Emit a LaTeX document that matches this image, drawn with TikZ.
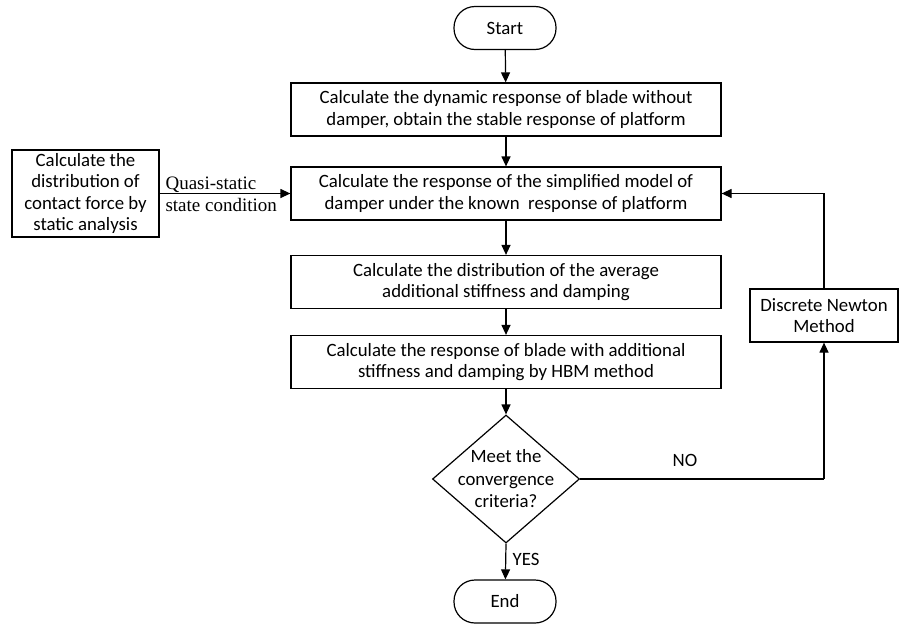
\documentclass[tikz,border=0pt]{standalone}
\usepackage{fontspec}
\setmainfont{Carlito}
\newfontfamily\timesf{Liberation Serif}
\usetikzlibrary{shapes.geometric,arrows.meta}
\begin{document}
\begin{tikzpicture}[x=1pt,y=-1pt,
  every node/.style={font=\fontsize{18.8}{21.5}\selectfont},
  box/.style={draw,line width=1.2pt,minimum width=430pt,minimum height=53pt,align=center,inner sep=0pt},
  term/.style={draw,line width=1.2pt,rounded corners=21pt,minimum width=102pt,minimum height=43pt,inner sep=0pt},
  arr/.style={line width=1.2pt,-{Triangle[length=10pt,width=9pt]}},
  ln/.style={line width=1.2pt}]
\useasboundingbox (0,0) rectangle (902,624);
\node[term] (start) at (505,28) {Start};
\node[box] (b1) at (506,109.5) {Calculate the dynamic response of blade without\\damper, obtain the stable response of platform};
\node[box] (b2) at (506,193.5) {Calculate the response of the simplified model of\\damper under the known\ \ response of platform};
\node[box] (b3) at (506,282) {Calculate the distribution of the average\\additional stiffness and damping};
\node[box] (b4) at (506,362) {Calculate the response of blade with additional\\stiffness and damping by HBM method};
\node[diamond,draw,line width=1.2pt,minimum width=147pt,minimum height=128pt,inner sep=0pt,
  label={[align=center,font=\fontsize{18.8}{22.5}\selectfont]center:Meet the\\convergence\\criteria?}] (d) at (506,479) {};
\node[term] (end) at (505,601.5) {End};
\node[draw,line width=1.2pt,minimum width=147pt,minimum height=87pt,align=center,inner sep=0pt] (left) at (85.5,193.5) {Calculate the\\distribution of\\contact force by\\static analysis};
\node[draw,line width=1.2pt,minimum width=148pt,minimum height=53pt,align=center,inner sep=0pt] (dn) at (824,315.5) {Discrete Newton\\Method};
\coordinate (corner) at (824,479);
\draw[arr] (start) -- (b1);
\draw[arr] (b1) -- (b2);
\draw[arr] (b2) -- (b3);
\draw[arr] (b3) -- (b4);
\draw[arr] (b4) -- (d.north);
\draw[arr] (d.south) -- node[right=3pt,pos=0.45] (yes) {YES} (end);
\draw[arr] (left) -- (b2);
\node[anchor=west,align=left,font=\timesf\fontsize{19}{22}\selectfont] (qs) at (162,194) {Quasi-static\\state condition};
\draw[ln] (d.east) -- (corner);
\draw[arr] (corner) -- (dn.south);
\draw[arr] (dn.north) |- (b2.east);
\node (no) at (685,460) {NO};
\end{tikzpicture}
\end{document}
